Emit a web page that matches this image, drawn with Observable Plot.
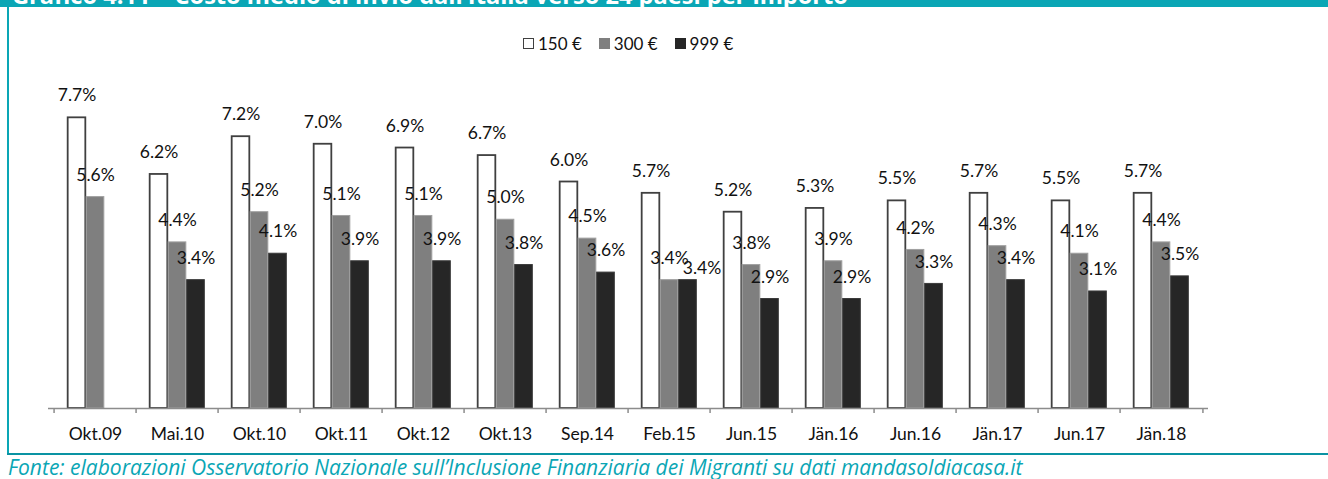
<!DOCTYPE html>
<html>
<head>
<meta charset="utf-8">
<script src="https://cdn.jsdelivr.net/npm/d3@7"></script>
<script src="https://cdn.jsdelivr.net/npm/@observablehq/plot@0.6"></script>
<style>
  html, body { margin: 0; padding: 0; background: #fff; width: 1328px; height: 479px; overflow: hidden; font-family: Lato, "Open Sans", sans-serif; }
  #titleband { position: absolute; left: 0; top: 0; width: 1328px; height: 7px; background: #0aa6b5; overflow: hidden; }
  #titleband span { position: absolute; left: 12px; top: -16px; color: #fff; font-family: "Open Sans", sans-serif; font-weight: bold; font-size: 23.6px; white-space: nowrap; line-height: 23px; }
  #leftline { position: absolute; left: 7px; top: 0; width: 2px; height: 455px; background: #0aa6b5; }
  #bottomline { position: absolute; left: 7px; top: 453px; width: 1321px; height: 2px; background: #0a93a3; }
  #legend { position: absolute; left: 523px; top: 33px; height: 20px; display: flex; align-items: center; font-size: 17px; color: #111; white-space: nowrap; }
  #legend .sw { display: inline-block; width: 11px; height: 11px; box-sizing: border-box; margin-right: 4px; }
  #legend .item { display: flex; align-items: center; margin-right: 17px; }
  #chart { position: absolute; left: 0; top: 62px; }
  #caption { position: absolute; left: 8px; top: 453px; font-family: "Open Sans", sans-serif; font-style: italic; font-weight: 400; color: #0aa6b5; font-size: 21px; white-space: nowrap; }
</style>
</head>
<body>
<div id="titleband"><span>Grafico 4.11 – Costo medio di invio dall’Italia verso 24 paesi per importo</span></div>
<div id="leftline"></div>
<div id="legend"></div>
<div id="chart"></div>
<div id="bottomline"></div>
<div id="caption">Fonte: elaborazioni Osservatorio Nazionale sull’Inclusione Finanziaria dei Migranti su dati mandasoldiacasa.it</div>
<script>
const categories = ["Okt.09","Mai.10","Okt.10","Okt.11","Okt.12","Okt.13","Sep.14","Feb.15","Jun.15","Jän.16","Jun.16","Jän.17","Jun.17","Jän.18"];
const seriesNames = ["150 €","300 €","999 €"];
const values150 = [7.7,6.2,7.2,7.0,6.9,6.7,6.0,5.7,5.2,5.3,5.5,5.7,5.5,5.7];
const values300 = [5.6,4.4,5.2,5.1,5.1,5.0,4.5,3.4,3.8,3.9,4.2,4.3,4.1,4.4];
const values999 = [null,3.4,4.1,3.9,3.9,3.8,3.6,3.4,2.9,2.9,3.3,3.4,3.1,3.5];

const seriesFill = ["#ffffff","#7f7f7f","#262626"];
const seriesStroke = ["#404040","#a0a0a0","#3a3a3a"];
const seriesStrokeWidth = [1.8,1,1];

const allValues = [values150, values300, values999];
const data = seriesNames.map((s, si) =>
  categories.map((c, ci) => ({cat: c, series: s, value: allValues[si][ci]})).filter(d => d.value != null)
);

// legend
const legend = document.getElementById("legend");
seriesNames.forEach((s, i) => {
  const item = document.createElement("span");
  item.className = "item";
  const sw = document.createElement("span");
  sw.className = "sw";
  sw.style.background = seriesFill[i];
  sw.style.border = i === 0 ? "1.5px solid #404040" : "none";
  item.appendChild(sw);
  item.appendChild(document.createTextNode(s));
  legend.appendChild(item);
});

const width = 1328, height = 391;
const marginLeft = 48, marginRight = 120, marginBottom = 45, marginTop = 44;
const bw = (width - marginLeft - marginRight) / categories.length;
const barW = 18.5;
const inset = (bw - barW) / 2;
const frameH = height - marginTop - marginBottom;
const shiftedLabel = {series: 2, cat: "Feb.15"}; // label nudged aside in the original to avoid overlap

const marks = [];
data.forEach((d, i) => {
  marks.push(Plot.barY(d, {
    x: "cat", y: "value",
    fill: seriesFill[i], stroke: seriesStroke[i], strokeWidth: seriesStrokeWidth[i],
    insetLeft: inset, insetRight: inset, dx: (i - 1) * barW
  }));
});
marks.push(Plot.ruleY([0], {stroke: "#8c8c8c", strokeWidth: 1.5}));
marks.push(Plot.ruleX(categories, {x: d => d, dx: -bw / 2, insetTop: frameH, insetBottom: -5, stroke: "#8c8c8c", strokeWidth: 1.5}));
marks.push(Plot.ruleX(categories.slice(-1), {x: d => d, dx: bw / 2, insetTop: frameH, insetBottom: -5, stroke: "#8c8c8c", strokeWidth: 1.5}));
const fmt = v => v.value.toFixed(1) + "%";
data.forEach((d, i) => {
  const isShifted = v => i === shiftedLabel.series && v.cat === shiftedLabel.cat;
  marks.push(Plot.text(d.filter(v => !isShifted(v)), {
    x: "cat", y: "value", text: fmt,
    dx: (i - 1) * barW, dy: -22, fontSize: 17.5, fill: "#111"
  }));
  const shifted = d.filter(isShifted);
  if (shifted.length) {
    marks.push(Plot.text(shifted, {
      x: "cat", y: "value", text: fmt,
      dx: (i - 1) * barW + 14, dy: -12, fontSize: 17.5, fill: "#111"
    }));
  }
});

const chart = Plot.plot({
  width, height, marginLeft, marginRight, marginTop, marginBottom,
  style: {fontFamily: "Lato, 'Open Sans', sans-serif", fontSize: "17.5px", color: "#111", background: "transparent", overflow: "visible"},
  x: {domain: categories, padding: 0, tickSize: 0, tickPadding: 19, label: null},
  y: {domain: [0, 8], axis: null},
  marks
});
document.getElementById("chart").appendChild(chart);
</script>
</body>
</html>
